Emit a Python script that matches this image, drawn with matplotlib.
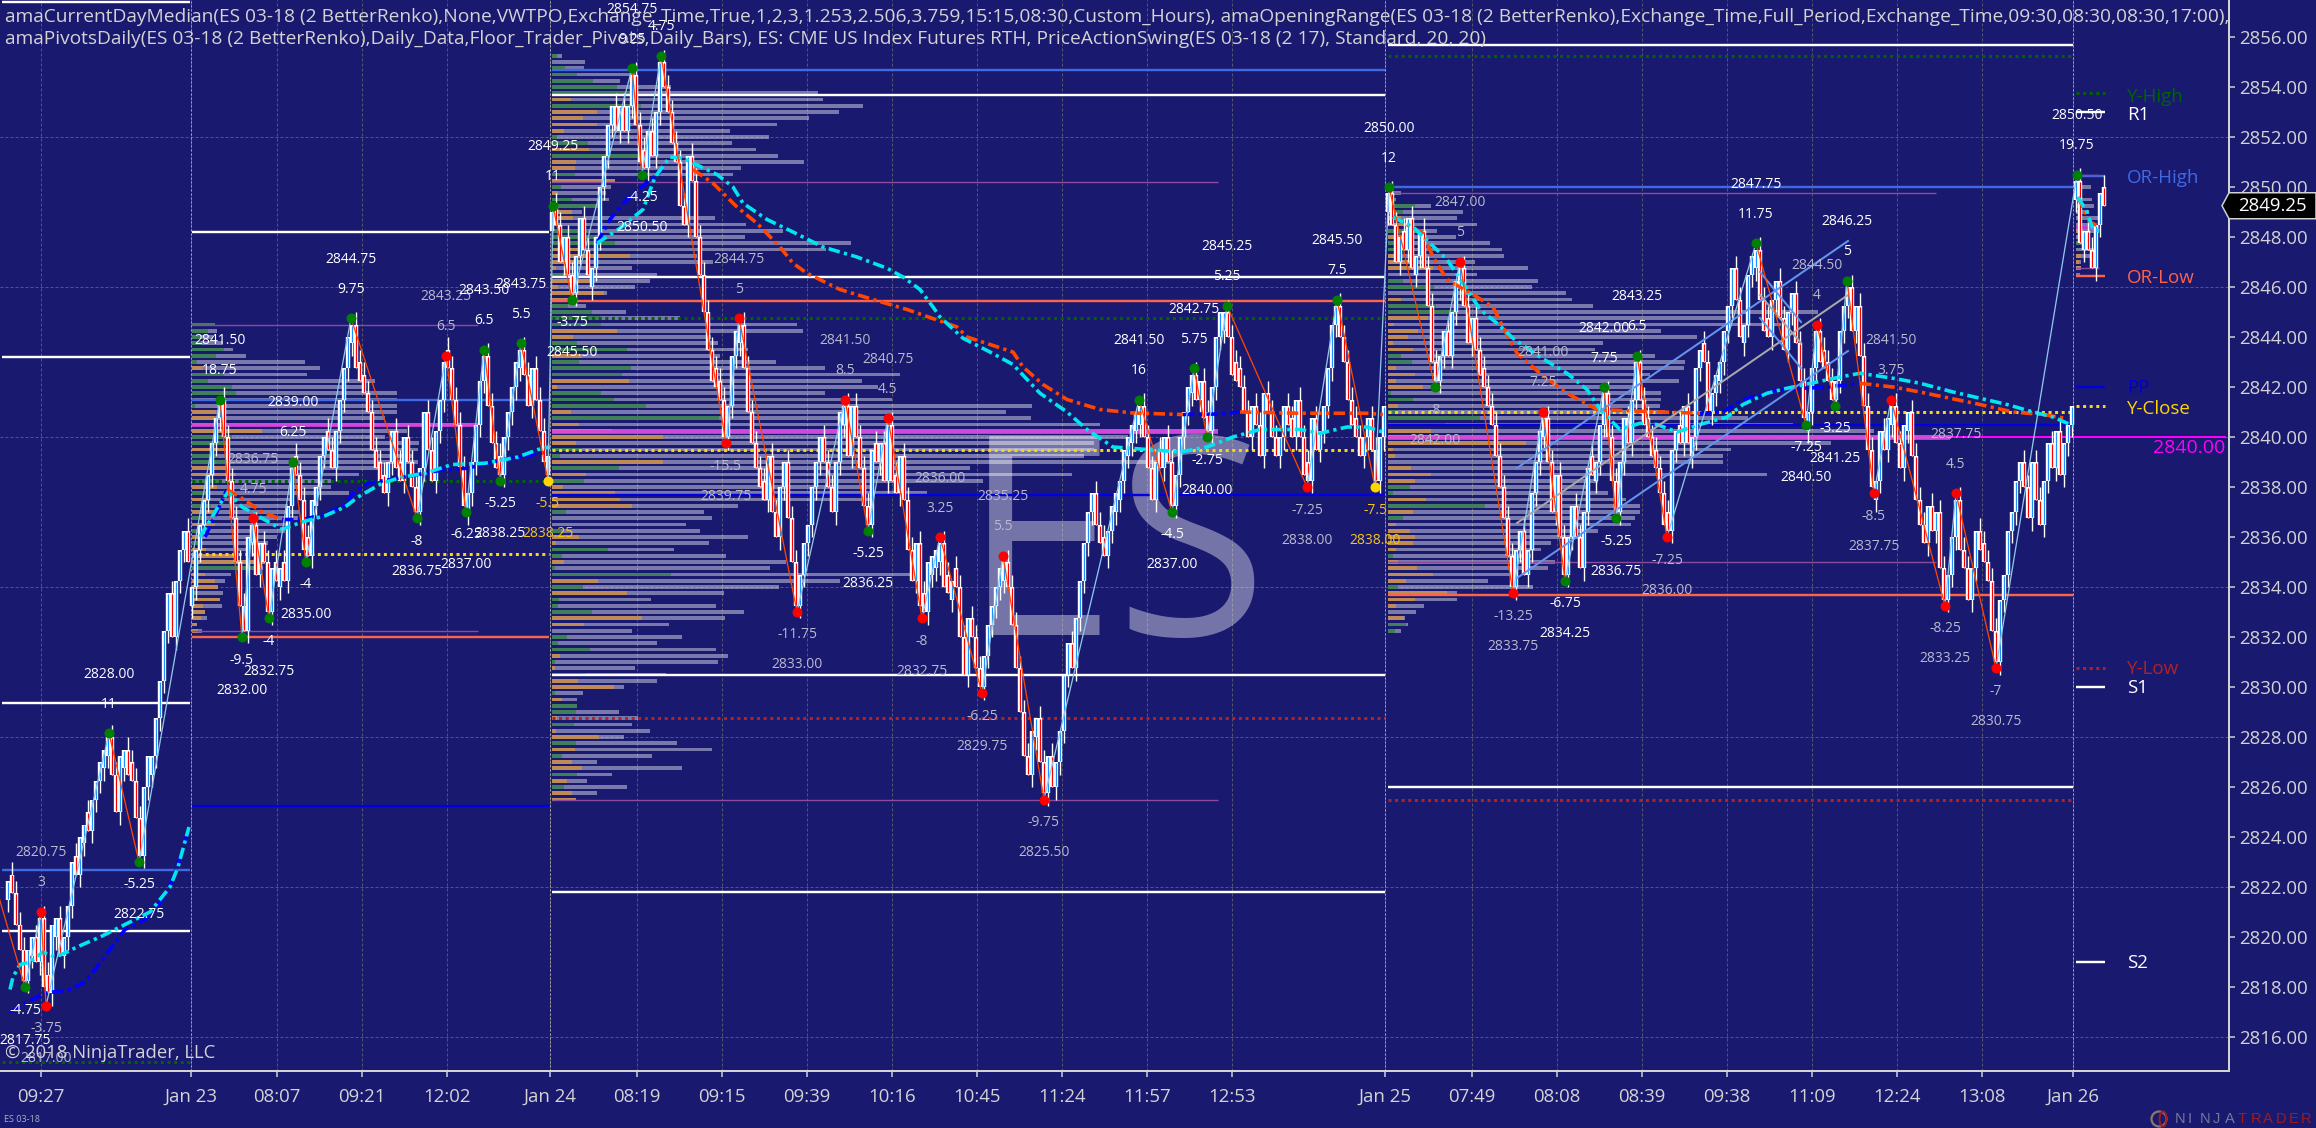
import matplotlib
matplotlib.use('Agg')
import matplotlib.pyplot as plt
from matplotlib.patches import Ellipse, Polygon

WIDTH, HEIGHT = 2316, 1128
BG = '#191970'
FONT = ['Open Sans', 'DejaVu Sans']
plt.rcParams['font.family'] = FONT

# renko closes per session, one value per bar
closes_jan22 = [2822.25, 2821.75, 2820.5, 2819.5, 2818.25, 2819.5, 2820, 2819, 2820.75, 2818, 2817.75, 2820.5, 2820.75,
                2819.25, 2820, 2821.25, 2823, 2822.5, 2824, 2824.5, 2824.25, 2825.5, 2826.25, 2827, 2827.5, 2828,
                2826.5, 2825, 2827.25, 2827.5, 2826.5, 2826.25, 2824.75, 2823.25, 2826, 2827.25, 2827.25, 2828.75,
                2830.25, 2832.25, 2833.75, 2832, 2834.25, 2835.5, 2836.25, 2835]
closes_jan23 = [2834, 2835.5, 2836.5, 2837.5, 2838.5, 2839.75, 2840.75, 2841.5, 2840, 2838.25, 2836.75, 2835, 2833.25,
                2832.25, 2836, 2836.5, 2834.5, 2835.75, 2835, 2833, 2834.75, 2834.25, 2834.75, 2834.25, 2837.25,
                2838.75, 2838.5, 2837.5, 2835.5, 2835.25, 2837.5, 2838, 2839.25, 2840, 2839.5, 2838.75, 2840.25,
                2841.5, 2842.75, 2844, 2844.5, 2842.75, 2842.25, 2841.75, 2841, 2839.5, 2838.75, 2838.25, 2837.75,
                2839, 2840.25, 2838.75, 2838.25, 2840, 2839, 2838, 2837, 2838.75, 2841, 2839.5, 2838.25, 2840.25,
                2841.5, 2843, 2842.75, 2841.5, 2840.5, 2838.75, 2837.25, 2837.75, 2839, 2840.5, 2842.25, 2843.25,
                2841.25, 2839.75, 2838.75, 2838.5, 2840, 2841, 2842, 2843, 2843.5, 2842.5, 2841.25, 2842.75, 2841.5,
                2840.25, 2839, 2838.5]
closes_jan24 = [2849, 2848.5, 2847, 2848, 2846.5, 2845.75, 2847.25, 2848.75, 2847.5, 2846.5, 2846.75, 2848, 2850,
                2851.25, 2852.5, 2853.25, 2852.25, 2853.25, 2852.25, 2853.25, 2854.5, 2852.5, 2851, 2850.75, 2852.25,
                2851.25, 2853, 2855, 2854, 2853, 2851.75, 2851, 2849.25, 2848.5, 2851.25, 2850.25, 2848, 2846.5, 2845,
                2843.5, 2842.25, 2842, 2841.5, 2840, 2841.25, 2843.25, 2844.25, 2844.5, 2842.75, 2841, 2839.75,
                2838.75, 2838, 2837.5, 2839.25, 2837, 2836, 2838, 2839, 2836.75, 2835, 2833.25, 2834.5, 2835.75,
                2836.5, 2838, 2839, 2840, 2839, 2838, 2837, 2839, 2841, 2841.25, 2839.25, 2841.25, 2840, 2838.75,
                2837.25, 2836.5, 2839.5, 2839, 2839.75, 2838.25, 2840.5, 2838.25, 2837.75, 2839.25, 2837.5, 2835.5,
                2834.25, 2835.75, 2833.25, 2833, 2835, 2835.25, 2835.5, 2835.75, 2834, 2833.75, 2834.25, 2834, 2832,
                2830.5, 2832.75, 2832, 2830.75, 2830, 2831.25, 2832.5, 2833.25, 2834, 2834.75, 2835, 2834, 2832.5,
                2830.75, 2829, 2827.25, 2826.5, 2828.25, 2828.75, 2827, 2825.75, 2827.25, 2826, 2827, 2828.25, 2830.5,
                2831.75, 2830.75, 2832.75, 2834.25, 2835.75, 2837, 2837.75, 2836.5, 2835.75, 2835.25, 2836.25,
                2837.25, 2837.75, 2838.25, 2839.5, 2840, 2840.5, 2841, 2841.25, 2840, 2838.75, 2837.5, 2839, 2838.75,
                2840, 2839, 2837.25, 2838.5, 2840, 2841, 2842, 2842.5, 2841.5, 2842.25, 2840.75, 2840.25, 2842, 2844,
                2845, 2845, 2844, 2842.5, 2842.25, 2842, 2841, 2840, 2841.25, 2840.5, 2839.25, 2841.75, 2841, 2840,
                2839.25, 2840, 2841.25, 2840.5, 2840, 2841.5, 2840, 2838.5, 2838.25, 2840.75, 2839.5, 2840.25,
                2841.25, 2842.75, 2844.5, 2845.25, 2844, 2843, 2841.5, 2840.5, 2840, 2839.25, 2840, 2840.75, 2839.5,
                2838.25, 2840, 2841.25]
closes_jan25 = [2849.75, 2848.5, 2847, 2848, 2847.5, 2848.75, 2846.75, 2847.25, 2848.25, 2846.75, 2845.25, 2843,
                2842.25, 2843.25, 2844.25, 2843.25, 2845, 2846.25, 2846.75, 2845.25, 2843.75, 2844.75, 2843.5, 2842.5,
                2842, 2841.25, 2840.5, 2839.25, 2838, 2836.75, 2835.25, 2834, 2835.5, 2836.25, 2834.5, 2835.5, 2837.75,
                2839, 2840.25, 2840.75, 2839, 2837, 2838.5, 2836, 2834.5, 2836, 2837.25, 2836, 2834.75, 2837, 2838.75,
                2838.5, 2839, 2840.5, 2841.75, 2840, 2838.25, 2837, 2839, 2840.75, 2839.75, 2841.5, 2843, 2841.5,
                2840.5, 2840, 2839.25, 2838.75, 2837.75, 2836.5, 2836.25, 2839.5, 2840.25, 2839.75, 2841.25, 2839.75,
                2840, 2842.75, 2843.5, 2843, 2841, 2841.75, 2842.5, 2843, 2844.25, 2845.25, 2846.75, 2845.5, 2844,
                2844.5, 2846.5, 2847.25, 2847.5, 2845.5, 2844.25, 2844, 2845.5, 2846.25, 2844.75, 2843.5, 2845,
                2845.75, 2843.75, 2842.25, 2840.75, 2841, 2842.75, 2844.25, 2843, 2842.75, 2842.25, 2841.5, 2842.25,
                2844.25, 2845.25, 2846, 2844.25, 2845.25, 2843.25, 2841.25, 2839.5, 2838, 2838.25, 2840.25, 2839.5,
                2840.75, 2841.25, 2839.75, 2838.75, 2840.5, 2841, 2839.25, 2837.5, 2836.5, 2835.75, 2837.25, 2836.25,
                2837, 2834.75, 2833.5, 2834.5, 2836, 2837.5, 2835.5, 2834.75, 2833.5, 2834.75, 2836.25, 2835.5, 2835,
                2834.25, 2832.25, 2831, 2833.5, 2834.5, 2836.25, 2837, 2838.25, 2839, 2838, 2836.75, 2839, 2837.5,
                2836.5, 2838.25, 2839.75, 2838.75, 2840.25, 2838.5, 2839.75, 2840.5, 2841.25]
closes_jan26 = [2850.25, 2847.75, 2848.25, 2847.5, 2846.75, 2848.5, 2849.75, 2849.25]
session_first_bar = [0, 46, 136, 345, 517]
session_closes = [closes_jan22, closes_jan23, closes_jan24, closes_jan25, closes_jan26]

# swing pivots: bar, price, dot colour, swing text, price text, text colour
W, G, Y = 'white', '#b9b9cc', '#f5c518'
pivots = [
    (4.25, 2818, 'g', '-4.75', '2817.75', W), (8.25, 2821, 'r', '3', '2820.75', G),
    (9.5, 2817.25, 'r', '-3.75', '2817.00', G), (25.25, 2828.15, 'g', '11', '2828.00', W),
    (32.75, 2823, 'g', '-5.25', '2822.75', W), (53, 2841.5, 'g', '18.75', '2841.50', W),
    (58.5, 2832, 'g', '-9.5', '2832.00', W), (61.25, 2836.75, 'r', '4.75', '2836.75', G),
    (65.25, 2832.75, 'g', '-4', '2832.75', W), (71.25, 2839, 'g', '6.25', '2839.00', W),
    (74.5, 2835, 'g', '-4', '2835.00', W), (85.75, 2844.75, 'g', '9.75', '2844.75', W),
    (102.25, 2836.75, 'g', '-8', '2836.75', W), (109.5, 2843.25, 'r', '6.5', '2843.25', G),
    (114.5, 2837, 'g', '-6.25', '2837.00', W), (119, 2843.5, 'g', '6.5', '2843.50', W),
    (123, 2838.25, 'g', '-5.25', '2838.25', W), (128.25, 2843.75, 'g', '5.5', '2843.75', W),
    (135, 2838.25, 'y', '-5.5', '2838.25', Y), (136.25, 2849.25, 'g', '11', '2849.25', W),
    (141, 2845.5, 'g', '-3.75', '2845.50', W), (156, 2854.75, 'g', '9.25', '2854.75', W),
    (158.5, 2850.5, 'g', '-4.25', '2850.50', W), (163.25, 2855.25, 'g', '4.75', '2855.25', W),
    (179.5, 2839.75, 'r', '-15.5', '2839.75', G), (182.75, 2844.75, 'r', '5', '2844.75', G),
    (197.25, 2833, 'r', '-11.75', '2833.00', G), (209.25, 2841.5, 'r', '8.5', '2841.50', G),
    (215, 2836.25, 'g', '-5.25', '2836.25', W), (220, 2840.75, 'r', '4.5', '2840.75', G),
    (228.5, 2832.75, 'r', '-8', '2832.75', G), (233, 2836, 'r', '3.25', '2836.00', G),
    (243.5, 2829.75, 'r', '-6.25', '2829.75', G), (248.75, 2835.25, 'r', '5.5', '2835.25', G),
    (259, 2825.5, 'r', '-9.75', '2825.50', G), (282.75, 2841.5, 'g', '16', '2841.50', W),
    (291, 2837, 'g', '-4.5', '2837.00', W), (296.5, 2842.75, 'g', '5.75', '2842.75', W),
    (299.75, 2840, 'g', '-2.75', '2840.00', W), (304.75, 2845.25, 'g', '5.25', '2845.25', W),
    (324.75, 2838, 'r', '-7.25', '2838.00', G), (332.25, 2845.5, 'g', '7.5', '2845.50', W),
    (341.75, 2838, 'y', '-7.5', '2838.00', Y), (345.25, 2850, 'g', '12', '2850.00', W),
    (356.75, 2842, 'g', '-8', '2842.00', G), (363, 2847, 'r', '5', '2847.00', G),
    (376.25, 2833.75, 'r', '-13.25', '2833.75', G), (383.75, 2841, 'r', '7.25', '2841.00', G),
    (389.25, 2834.25, 'g', '-6.75', '2834.25', W), (399, 2842, 'g', '7.75', '2842.00', W),
    (402, 2836.75, 'g', '-5.25', '2836.75', W), (407.25, 2843.25, 'g', '6.5', '2843.25', W),
    (414.75, 2836, 'r', '-7.25', '2836.00', G), (437, 2847.75, 'g', '11.75', '2847.75', W),
    (449.5, 2840.5, 'g', '-7.25', '2840.50', W), (452.25, 2844.5, 'r', '4', '2844.50', G),
    (456.75, 2841.25, 'g', '-3.25', '2841.25', W), (459.75, 2846.25, 'g', '5', '2846.25', W),
    (466.5, 2837.75, 'r', '-8.5', '2837.75', G), (470.75, 2841.5, 'r', '3.75', '2841.50', G),
    (484.25, 2833.25, 'r', '-8.25', '2833.25', G), (487, 2837.75, 'r', '4.5', '2837.75', G),
    (497, 2830.75, 'r', '-7', '2830.75', G), (517.25, 2850.5, 'g', '19.75', '2850.50', W),
]

# median and vwap style moving lines, by session
cyan_x = [[0.5, 1.25, 3, 5.5, 8.75, 11.75, 14.75, 17.25, 23, 28, 35.5, 40.5, 42.5, 45.25],
          [48, 52.5, 55, 58.5, 63.5, 68.5, 73.5, 79.25, 84.25, 87.5, 93.5, 98.5, 104.25, 111, 119.25, 127.5, 132.5, 135.5],
          [147.25, 153, 158.75, 161.75, 165.5, 168.75, 177.25, 181.25, 183.75, 189.75, 196.25, 203.75, 212.25, 219.75,
           223.75, 228, 231.25, 233, 238.75, 245.5, 251.25, 258, 264.75, 269.75, 276.25, 284.75, 293, 299.75, 306.25,
           313, 323, 328, 334.75, 339.75, 343.75],
          [346.25, 351.25, 355.5, 359.75, 363.75, 368, 372.25, 376.25, 383, 389.75, 394.75, 398, 403, 408, 412.25,
           417.25, 423, 429.75, 433.75, 439.75, 444.75, 452.25, 458, 463, 471.25, 478, 486.25, 493, 499.75, 506.25,
           511.25, 516.25],
          [517.5, 519.75, 521.25, 523]]
cyan_y = [[2817.9, 2818.4, 2818.9, 2819, 2819.4, 2819.2, 2819.4, 2819.6, 2820, 2820.4, 2821, 2822, 2822.8, 2824.4],
          [2836, 2837.2, 2837.8, 2837.2, 2836.75, 2836.3, 2836.6, 2836.85, 2837.2, 2837.6, 2838.15, 2838.4, 2838.55,
           2838.9, 2838.95, 2839.2, 2839.5, 2839.6],
          [2847.75, 2848.35, 2849.1, 2850.4, 2851.2, 2851.15, 2850.5, 2850, 2849.35, 2848.7, 2848.2, 2847.6, 2847.2,
           2846.75, 2846.4, 2845.9, 2845.2, 2844.8, 2843.95, 2843.4, 2842.9, 2841.75, 2841, 2840.3, 2839.6, 2839.5,
           2839.4, 2839.6, 2840, 2840.3, 2840.3, 2840.15, 2840.4, 2840.4, 2840.2],
          [2848.8, 2848.4, 2847.75, 2847.1, 2846.15, 2845.1, 2844.55, 2843.95, 2843.2, 2842.55, 2841.9, 2841.1, 2840.3,
           2840.55, 2840.5, 2840.2, 2840.5, 2840.8, 2841.3, 2841.75, 2841.95, 2842.2, 2842.4, 2842.55, 2842.35, 2842.15,
           2841.8, 2841.55, 2841.3, 2841, 2840.8, 2840.45],
          [2849.6, 2849, 2848.3, 2848.25]]
median_rise_x = [[0.5, 4.25, 9.25, 15.5, 19.25, 21.75, 25.5, 29.25, 34.25, 39.25, 41.75, 43.75, 45.25],
                 [49.25, 52.5, 54.75],
                 [68.5, 73.5, 79.25, 84.25, 86, 90, 97.5, 104.25, 109.25, 115, 123.5, 129.25, 132.5, 135.5],
                 [147.25, 150.5, 153.75, 158, 163.75],
                 [293.75, 302.25, 308],
                 [423, 428.75, 433.75, 443, 454.75, 463]]
median_rise_y = [[2817, 2817.35, 2817.75, 2817.9, 2818.2, 2818.7, 2819.5, 2820.3, 2820.7, 2821.6, 2822.55, 2823.5, 2824.4],
                 [2836, 2837.1, 2837.9],
                 [2836.7, 2836.7, 2836.9, 2837.3, 2837.7, 2838.15, 2838.35, 2838.55, 2838.7, 2838.75, 2839.1, 2839.2,
                  2839.35, 2839.4],
                 [2847.75, 2848.7, 2849.35, 2849.95, 2850.7],
                 [2840.9, 2840.92, 2841],
                 [2840.95, 2841, 2841.5, 2841.9, 2842, 2842.15]]
median_fall_x = [[54.75, 58.5, 63.5, 68.5],
                 [171.25, 176.25, 182.25, 187.25, 193, 196.25, 199.75, 208, 216.25, 224.75, 237.25, 239.75, 251.25,
                  253.75, 258.75, 264.75, 273, 281.25, 293.75],
                 [308, 323, 339.75, 343.75],
                 [346.25, 353.75, 356.25, 359.75, 366.25, 371.25, 373.75, 377.25, 383, 389.75, 397.25, 413, 423],
                 [463, 471.25, 478, 485.5, 493, 501.25, 508.75, 514.25],
                 [517.5, 520.5, 523]]
median_fall_y = [[2837.9, 2837.55, 2837, 2836.7],
                 [2850.7, 2850.15, 2849.2, 2848.55, 2847.6, 2846.95, 2846.55, 2845.9, 2845.5, 2845.1, 2844.4, 2844,
                  2843.4, 2842.8, 2842.1, 2841.5, 2841.1, 2840.96, 2840.9],
                 [2841, 2840.95, 2840.95, 2840.9],
                 [2848.8, 2848.15, 2847.2, 2846.3, 2845.7, 2845.2, 2844.4, 2843.35, 2842.55, 2841.75, 2841.1, 2841, 2840.95],
                 [2842.15, 2842, 2841.8, 2841.55, 2841.3, 2841, 2840.9, 2840.75],
                 [2849.6, 2848.6, 2848.4]]

# session bar ranges used by the level lines
sessions = [(-1.5, 45.5), (46, 135.25), (136, 344.25), (345, 516.25), (517, 524.25)]
white_levels = [(0, 2857.4), (0, 2843.2), (0, 2829.35), (0, 2820.25), (1, 2848.2), (2, 2853.7), (2, 2846.4), (2, 2830.5),
                (2, 2821.8), (3, 2855.7), (3, 2826), (4, 2853), (4, 2830), (4, 2819)]
or_high_levels = [(0, 2822.7), (1, 2841.5), (2, 2854.7), (3, 2850), (4, 2850.45)]
or_low_levels = [(1, 2832), (2, 2845.45), (3, 2833.7), (4, 2846.45)]
pivot_levels = [(1, 2825.25), (2, 2837.7), (3, 2840.5), (4, 2842)]
y_close_levels = [(1, 2835.3), (2, 2839.5), (3, 2841), (4, 2841.25)]
y_high_levels = [(0, 2815), (1, 2838.25), (2, 2844.75), (3, 2855.25), (4, 2853.75)]
y_low_levels = [(2, 2828.75), (3, 2825.5), (4, 2830.75)]
value_area_levels = [(46, 117.5, 2844.5), (46, 117.5, 2832.25), (136, 302.5, 2850.2), (136, 302.5, 2825.5),
                     (345, 482, 2849.75), (345, 482, 2835), (517, 522.75, 2850.5), (517, 522.75, 2846.75)]
poc_levels = [(46, 117.5, 2840.5), (136, 302.5, 2840.2), (345, 485.5, 2839.95), (517, 522.75, 2848.4)]

# channels drawn by hand on Jan 25
channel_lines = [(377.25, 460, 2838.76, 2847.84, '#6495ed'), (377.25, 460, 2836.56, 2845.68, '#a9a9a9'),
                 (377.25, 460, 2834.36, 2843.44, '#6495ed'), (438, 448.25, 2846.6, 2844.6, '#6495ed'),
                 (438, 448.25, 2845.68, 2843.76, '#a9a9a9'), (438, 448.25, 2844.76, 2842.76, '#6495ed')]

# volume profiles, top row first, 0.25 points apart. split > 0 green part, < 0 orange part
profile_top = [2844.5, 2855.25, 2850, 2850.25]
profile_session = [1, 2, 3, 4]
profile_totals = [
    [23, 25, 21, 31, 41, 54, 113, 128, 115, 183, 170, 205, 205, 205, 205, 193, 286, 215, 193, 227, 226, 221, 226, 190,
     167, 139, 139, 157, 99, 96, 108, 106, 96, 93, 85, 76, 56, 46, 73, 71, 39, 33, 26, 31, 28, 30, 13, 15, 5, 10],
    [10, 33, 32, 83, 68, 119, 266, 271, 311, 287, 257, 225, 178, 217, 180, 204, 226, 252, 189, 181, 63, 59, 54, 57, 48,
     30, 163, 194, 231, 193, 299, 274, 145, 161, 80, 105, 98, 83, 55, 20, 34, 74, 128, 245, 251, 159, 166, 196, 168,
     224, 273, 348, 310, 326, 273, 340, 480, 454, 479, 548, 666, 576, 542, 542, 532, 620, 418, 520, 431, 320, 375, 320,
     186, 152, 160, 134, 148, 196, 157, 122, 174, 234, 218, 358, 288, 227, 172, 99, 164, 192, 173, 117, 80, 130, 105,
     164, 176, 166, 83, 114, 105, 72, 31, 25, 25, 67, 86, 80, 98, 72, 125, 160, 100, 45, 130, 60, 35, 75, 45, 24],
    [5, 13, 8, 43, 75, 69, 89, 49, 68, 102, 114, 116, 87, 140, 89, 150, 144, 178, 184, 205, 430, 343, 393, 273, 309, 215,
     207, 267, 297, 296, 262, 291, 248, 273, 273, 272, 277, 360, 405, 486, 563, 443, 343, 335, 335, 210, 379, 210, 200,
     220, 238, 252, 252, 247, 243, 210, 193, 163, 153, 143, 167, 160, 127, 100, 145, 69, 69, 36, 28, 17, 20, 13],
    [5, 15, 5, 16, 18, 13, 22, 17, 23, 12, 13, 22, 17, 5, 5, 4],
]
profile_splits = [
    [23, 16, 9, 9, 32, 24, 5, -11, 32, 16, 40, 44, 2, 3, -24, -23, -20, -70, 40, 39, -33, 26, 34, -34, -44, 30, -25, 16,
     -16, 19, -23, 9, -23, 14, -9, 6, -14, -43, -73, 66, -13, -23, -26, 3, -28, -11, -13, -9, -5, -6],
    [5, 0, 13, 25, 41, 65, 85, -19, 89, -45, -31, -45, -12, 5, 36, -37, 90, -24, -23, 23, -63, 9, -6, 20, 48, -20, -21,
     -7, 36, 43, 63, -26, -78, -28, -4, 11, -40, -6, -52, -20, 16, 40, 48, 49, -65, -21, 25, 75, -30, 27, 79, 70, -77,
     -5, 49, 62, 94, -19, 167, -27, -60, -111, -24, 30, 8, -111, 67, -34, 32, -11, -63, -68, -80, 14, 0, 0, 9, -27, -4,
     56, 10, -12, 3, 119, -46, 31, -75, 7, 6, 40, -90, -32, 0, 15, 6, 38, -8, 3, -3, 33, -26, -62, 3, -10, 25, 24, -5,
     22, -4, -47, 24, -23, 10, -20, -30, 25, -15, 12, -20, -24],
    [3, 0, 7, 27, 15, -13, -26, 17, -12, 7, 18, -13, -23, -45, 0, 15, 46, 0, -13, 48, 67, -40, -6, -30, -20, -5, -25, 13,
     24, -8, -27, -8, -35, 3, 25, -10, 10, 92, 57, -43, -60, -138, -5, -7, 0, -23, -43, -27, 22, 5, -38, 97, -25, 15, -8,
     -22, -27, -25, -8, 5, -10, -29, -45, -18, 10, -59, -27, -8, 0, -16, 18, 7],
    [2, 0, 0, 6, 0, 0, 0, 0, -7, 0, 5, 0, -5, -3, -5, 0],
]

tick_bars = [8.25, 45.75, 67.25, 88.5, 109.75, 135.5, 157.25, 178.5, 199.75, 221, 242.25, 263.5, 284.75, 306, 344.25,
             366, 387.25, 408.5, 429.75, 451, 472.25, 493.5, 516.25]
tick_labels = ['09:27', 'Jan 23', '08:07', '09:21', '12:02', 'Jan 24', '08:19', '09:15', '09:39', '10:16', '10:45', '11:24',
               '11:57', '12:53', 'Jan 25', '07:49', '08:08', '08:39', '09:38', '11:09', '12:24', '13:08', 'Jan 26']
day_break_bars = [45.75, 135.5, 344.25, 516.25]
price_ticks = list(range(2816, 2858, 2))
grid_prices = list(range(2816, 2858, 6))

right_labels = [('Y-High', 2853.6, '#006400'), ('R1', 2852.88, 'white'), ('OR-High', 2850.36, '#4169e1'),
                ('OR-Low', 2846.36, '#ff6347'), ('PP', 2841.96, '#0000cd'), ('Y-Close', 2841.12, '#ffd700'),
                ('Y-Low', 2830.72, '#b22222'), ('S1', 2829.96, 'white'), ('S2', 2818.96, 'white')]
last_price = 2849.25
alert_price = 2840

legend_lines = ['amaCurrentDayMedian(ES 03-18 (2 BetterRenko),None,VWTPO,Exchange_Time,True,1,2,3,1.253,2.506,3.759,15:15,'
                '08:30,Custom_Hours), amaOpeningRange(ES 03-18 (2 BetterRenko),Exchange_Time,Full_Period,Exchange_Time,'
                '09:30,08:30,08:30,17:00),',
                'amaPivotsDaily(ES 03-18 (2 BetterRenko),Daily_Data,Floor_Trader_Pivots,Daily_Bars), ES: CME US Index '
                'Futures RTH, PriceActionSwing(ES 03-18 (2 17), Standard, 20, 20)']

fig = plt.figure(figsize=(WIDTH / 100, HEIGHT / 100), dpi=100, facecolor=BG)
ax = fig.add_axes([0, 1 - 1071 / HEIGHT, 2229 / WIDTH, 1071 / HEIGHT], facecolor=BG)
ax.set_xlim(-2, 555.25)
ax.set_ylim(2814.64, 2857.48)


def pt(pixels):
    return pixels * 0.72


def fig_text(x, y, text, **kwargs):
    fig.text(x / WIDTH, 1 - y / HEIGHT, text, **kwargs)


# grid
ax.hlines(grid_prices, -2, 555.25, colors='#5a5a55', lw=pt(1), linestyles=(0, (3, 2)), zorder=1)
ax.vlines(tick_bars, 2814.64, 2857.48, colors='#55556e', lw=pt(1), linestyles=(0, (3, 2)), zorder=1)
ax.vlines(day_break_bars, 2814.64, 2857.48, colors='#a5a5b5', lw=pt(1), linestyles=(0, (2, 2)), zorder=1)

# watermark
ax.text(276.75, 2832.08, 'ES', fontsize=200, color='white', alpha=0.4, ha='center', va='baseline', zorder=1.5)

# volume profiles
for top, sess, totals, splits in zip(profile_top, profile_session, profile_totals, profile_splits):
    start = sessions[sess][0]
    rows = [top - 0.25 * k for k in range(len(totals))]
    ax.barh(rows, [t / 4 for t in totals], height=0.15, left=start, color='white', alpha=0.42, lw=0, zorder=2)
    green = [max(s, 0) / 4 for s in splits]
    orange = [max(-s, 0) / 4 for s in splits]
    ax.barh(rows, green, height=0.15, left=start, color='#3f7f5a', lw=0, zorder=2.1)
    ax.barh(rows, orange, height=0.15, left=start, color='#bd8a58', lw=0, zorder=2.1)

# level lines
for sess, price in white_levels:
    ax.hlines(price, *sessions[sess], colors='white', lw=pt(2.4), zorder=3)
for sess, price in or_high_levels:
    ax.hlines(price, *sessions[sess], colors='#4169e1', lw=pt(2.4), zorder=3)
for sess, price in or_low_levels:
    ax.hlines(price, *sessions[sess], colors='#ff6347', lw=pt(2.4), zorder=3)
for sess, price in pivot_levels:
    ax.hlines(price, *sessions[sess], colors='#0000e0', lw=pt(2.4), zorder=3)
for sess, price in y_close_levels:
    ax.hlines(price, *sessions[sess], colors='#ffd700', lw=pt(3), linestyles=(0, (1, 1.2)), zorder=3)
for sess, price in y_high_levels:
    ax.hlines(price, *sessions[sess], colors='#006400', lw=pt(3), linestyles=(0, (1, 1.2)), zorder=3)
for sess, price in y_low_levels:
    ax.hlines(price, *sessions[sess], colors='#b22222', lw=pt(3), linestyles=(0, (1, 1.2)), zorder=3)
for start, end, price in value_area_levels:
    ax.hlines(price, start, end, colors='#8b4a9b', lw=pt(1.4), zorder=3)
for start, end, price in poc_levels:
    ax.hlines(price, start, end, colors='#e040e0', lw=pt(4), alpha=0.85, zorder=3)
ax.hlines(alert_price, 485.5, 554.5, colors='#ff00ff', lw=pt(2), zorder=3)

# candles
for first, closes in zip(session_first_bar, session_closes):
    bars = [first + i for i in range(len(closes))]
    opens = [closes[0]] + closes[:-1]
    for x, o, c in zip(bars, opens, closes):
        rising = c >= o
        low, high = min(o, c), max(o, c)
        if high - low < 0.75:
            if rising:
                low = high - 0.75
            else:
                high = low + 0.75
        wick_low = low - 0.5 if rising else low
        wick_high = high if rising else high + 0.5
        ax.vlines(x, wick_low, wick_high, colors='white', lw=pt(1.4), zorder=4)
        ax.vlines(x, low, high, colors='white', lw=pt(4.4), zorder=4)
        ax.vlines(x, low + 0.04, high - 0.04, colors='#1e90ff' if rising else '#ff0000', lw=pt(1.25), zorder=4.2)

# moving lines
dash_dot = (0, (3.2, 1.2, 0.9, 1.2))
for xs, ys in zip(median_rise_x, median_rise_y):
    ax.plot(xs, ys, color='#0000ff', lw=pt(3.6), ls=dash_dot, zorder=5)
for xs, ys in zip(median_fall_x, median_fall_y):
    ax.plot(xs, ys, color='#ff4500', lw=pt(3.6), ls=dash_dot, zorder=5)
for xs, ys in zip(cyan_x, cyan_y):
    ax.plot(xs, ys, color='#00e5ee', lw=pt(3.6), ls=dash_dot, zorder=5.1)

# channels
for x0, x1, y0, y1, colour in channel_lines:
    ax.plot([x0, x1], [y0, y1], color=colour, lw=pt(2), zorder=5.2)

# swing lines, dots and labels
swing_x = [-3] + [p[0] for p in pivots]
swing_y = [2822] + [p[1] for p in pivots]
for i in range(len(swing_x) - 1):
    colour = '#8fc7e8' if swing_y[i + 1] > swing_y[i] else '#ff4500'
    ax.plot(swing_x[i:i + 2], swing_y[i:i + 2], color=colour, lw=pt(1.3), zorder=5.5)

dot_colours = {'g': '#008000', 'r': '#ff0000', 'y': '#ffd700'}
for k, (x, price, dot, swing, level, colour) in enumerate(pivots):
    ax.plot(x, price, 'o', color=dot_colours[dot], ms=pt(10), mew=0, zorder=6)
    is_high = not swing.startswith('-')
    near, far = (29, 59) if is_high else (-23, -53)
    ax.annotate(swing, (x, price), xytext=(0, near), textcoords='offset pixels', ha='center', va='center',
                fontsize=10, color=colour, zorder=7, annotation_clip=False)
    ax.annotate(level, (x, price), xytext=(0, far), textcoords='offset pixels', ha='center', va='center',
                fontsize=10, color=colour, zorder=7, annotation_clip=False)

# right side names
for name, price, colour in right_labels:
    ax.text(529.75, price, name, color=colour, fontsize=13.5, ha='left', va='center', zorder=7)
ax.text(554.25, alert_price - 0.44, '2840.00', color='#ff00ff', fontsize=14, ha='right', va='center', zorder=7)

# axes
for side in ['top', 'left']:
    ax.spines[side].set_visible(False)
for side in ['right', 'bottom']:
    ax.spines[side].set_color('#d3d3d3')
    ax.spines[side].set_linewidth(pt(2))
ax.yaxis.tick_right()
ax.set_yticks(price_ticks)
ax.set_yticklabels(['%.2f' % p for p in price_ticks])
ax.set_xticks(tick_bars)
ax.set_xticklabels(tick_labels)
ax.tick_params(axis='y', colors='#d3d3d3', labelsize=13.4, length=pt(6), width=pt(1.5), pad=3)
ax.tick_params(axis='x', colors='#d3d3d3', labelsize=13.4, length=pt(6), width=pt(1.5), pad=8)

# last price flag
half = 13 / 25
flag = Polygon([(2222 / 2229, last_price), (2229 / 2229, last_price + half), (2316 / 2229, last_price + half),
                (2316 / 2229, last_price - half), (2229 / 2229, last_price - half)], closed=True, fc='black',
               ec='#d3d3d3', lw=pt(1.5), transform=ax.get_yaxis_transform(), clip_on=False, zorder=8)
ax.add_patch(flag)
ax.text(2238 / 2229, last_price, '%.2f' % last_price, color='white', fontsize=13.4, ha='left', va='center',
        transform=ax.get_yaxis_transform(), zorder=9)

# texts around the chart
fig_text(5, 17, legend_lines[0], color='#d3d3d3', fontsize=13.8, va='center', zorder=10)
fig_text(5, 39, legend_lines[1], color='#d3d3d3', fontsize=13.8, va='center', zorder=10)
fig_text(5, 1053, '\u00a9 2018 NinjaTrader, LLC', color='#d3d3d3', fontsize=13.3, va='center', zorder=10)
fig_text(4, 1119, 'ES 03-18', color='#b0b0c0', fontsize=6.5, va='center')

logo_x = 2175
for i, letter in enumerate('NINJATRADER'):
    fig_text(logo_x + i * 12.6, 1119, letter, color='#77779a' if i < 5 else '#a01c1c', fontsize=10.5, va='center', ha='left',
             family=['Liberation Sans'])
fig.add_artist(Ellipse((2159 / WIDTH, 1 - 1119 / HEIGHT), 15 / WIDTH, 15 / HEIGHT, fc='none', ec='#8a7a66', lw=1.6,
                       transform=fig.transFigure))
fig.add_artist(Ellipse((2163 / WIDTH, 1 - 1119 / HEIGHT), 7 / WIDTH, 15 / HEIGHT, fc='none', ec='#a01c1c', lw=1.4,
                       transform=fig.transFigure))

fig.savefig('out.png', dpi=100, facecolor=BG)
